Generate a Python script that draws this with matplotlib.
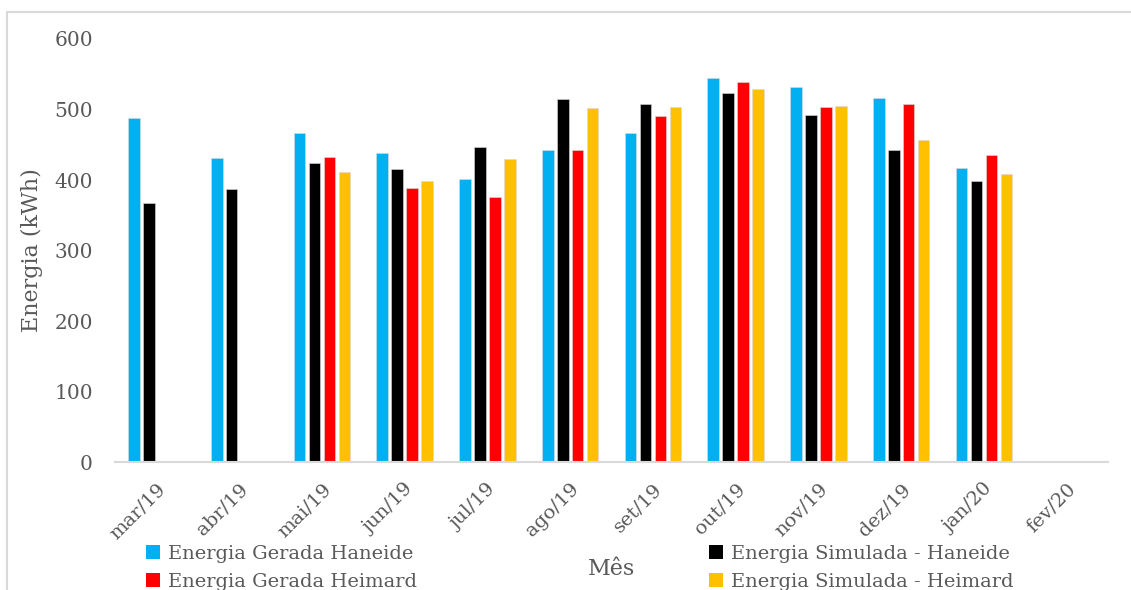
import numpy as np
import matplotlib.pyplot as plt
from matplotlib.patches import Rectangle, Patch

# Monthly energy (kWh)
meses = ['mar/19', 'abr/19', 'mai/19', 'jun/19', 'jul/19', 'ago/19',
         'set/19', 'out/19', 'nov/19', 'dez/19', 'jan/20', 'fev/20']
gerada_haneide = [488, 431, 467, 438, 402, 442, 467, 545, 532, 516, 417, np.nan]
simulada_haneide = [367, 387, 424, 416, 447, 515, 508, 523, 492, 443, 398, np.nan]
gerada_heimard = [np.nan, np.nan, 432, 388, 376, 442, 491, 539, 503, 508, 435, np.nan]
simulada_heimard = [np.nan, np.nan, 411, 399, 430, 502, 504, 529, 505, 457, 409, np.nan]
yticks = [0, 100, 200, 300, 400, 500, 600]

plt.rcParams['font.family'] = ['DejaVu Serif']
texto = '#595959'

fig = plt.figure(figsize=(11.31, 5.9), dpi=100)
ax = fig.add_axes([0.1017, 0.2169, 0.878, 0.717])

x = np.arange(len(meses))
series = [
    (gerada_haneide, '#00B0F0', 'Energia Gerada Haneide'),
    (simulada_haneide, '#000000', 'Energia Simulada - Haneide'),
    (gerada_heimard, '#FF0000', 'Energia Gerada Heimard'),
    (simulada_heimard, '#FFC000', 'Energia Simulada - Heimard'),
]
passo = 0.181
largura = 0.141
for i, (vals, cor, nome) in enumerate(series):
    ax.bar(x + (i - 1.5) * passo, vals, width=largura, color=cor,
           edgecolor='#D9D9D9', linewidth=0.4, label=nome)

ax.set_xlim(-0.5, len(meses) - 0.5)
ax.set_ylim(0, 600)
ax.set_yticks(yticks)
ax.set_xticks(x)
ax.set_xticklabels(meses, rotation=45, ha='right', rotation_mode='anchor')
ax.tick_params(axis='both', length=0, colors=texto)
ax.tick_params(axis='y', pad=16, labelsize=14.5)
ax.tick_params(axis='x', pad=13, labelsize=14)
for s in ['top', 'right', 'left']:
    ax.spines[s].set_visible(False)
ax.spines['bottom'].set_color('#D9D9D9')
ax.spines['bottom'].set_linewidth(1.5)

ax.set_ylabel('Energia (kWh)', fontsize=16, color=texto, labelpad=8)
fig.text(0.541, 0.036, 'Mês', fontsize=16, color=texto, ha='center', va='center')

# chart frame
fig.patches.append(Rectangle((0.0062, -0.1), 1.1, 1.0797, transform=fig.transFigure,
                             fill=False, edgecolor='#D9D9D9', linewidth=1.5))

def entradas(idx):
    return [Patch(facecolor=series[k][1], label=series[k][2]) for k in idx]

kw = dict(frameon=False, fontsize=14, labelcolor=texto, handlelength=0.72,
          handleheight=0.72, handletextpad=0.4, labelspacing=0.5,
          borderaxespad=0, borderpad=0, loc='upper left')
fig.legend(handles=entradas([0, 2]), bbox_to_anchor=(0.129, 0.076), **kw)
fig.legend(handles=entradas([1, 3]), bbox_to_anchor=(0.627, 0.076), **kw)

fig.savefig('out.png', dpi=100)
